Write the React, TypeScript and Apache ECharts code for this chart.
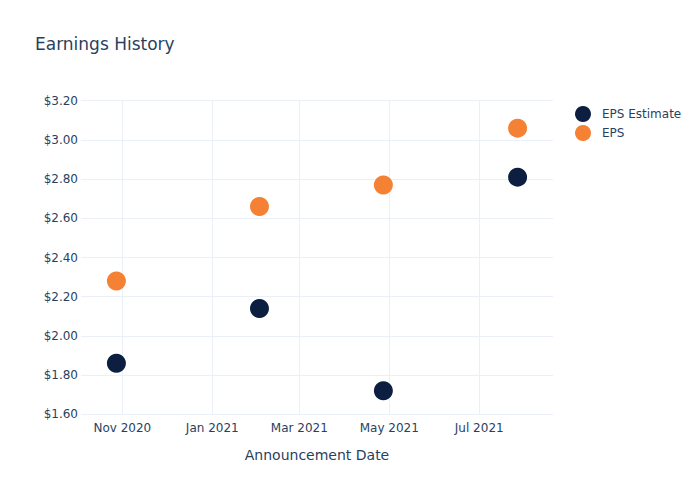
import React, { useEffect, useRef } from "react";
import * as echarts from "echarts";

const dates = ["2020-10-28", "2021-02-02", "2021-04-27", "2021-07-27"];
const epsEstimate = [1.86, 2.14, 1.72, 2.81];
const eps = [2.28, 2.66, 2.77, 3.06];
const xTickDates = ["2020-11-01", "2021-01-01", "2021-03-01", "2021-05-01", "2021-07-01"];
const xMin = "2020-10-04";
const xMax = "2021-08-20";
const monthNames = ["Jan", "Feb", "Mar", "Apr", "May", "Jun", "Jul", "Aug", "Sep", "Oct", "Nov", "Dec"];

const ts = (d: string) => Date.UTC(+d.slice(0, 4), +d.slice(5, 7) - 1, +d.slice(8, 10));

const FONT = "DejaVu Sans";
const TEXT = "#2a3f5f";
const GRID = "#ebf0f8";

export default function App() {
  const ref = useRef<HTMLDivElement>(null);
  useEffect(() => {
    if (!ref.current) return;
    const chart = echarts.init(ref.current, undefined, { renderer: "svg" });
    const tickVals = xTickDates.map(ts);
    chart.setOption({
      animation: false,
      backgroundColor: "#ffffff",
      textStyle: { fontFamily: FONT },
      title: {
        text: "Earnings History",
        left: 35,
        top: 35,
        padding: 0,
        textStyle: { fontFamily: FONT, fontSize: 17, fontWeight: "normal", color: TEXT },
      },
      legend: {
        orient: "vertical",
        left: 575,
        top: 106,
        padding: 0,
        itemWidth: 16,
        itemHeight: 16,
        itemGap: 3,
        icon: "circle",
        textStyle: { fontFamily: FONT, fontSize: 12, color: TEXT, padding: [0, 0, 0, 6] },
        data: ["EPS Estimate", "EPS"],
      },
      grid: { left: 81, right: 147, top: 100.7, bottom: 85.7, containLabel: false },
      xAxis: {
        type: "value",
        min: ts(xMin),
        max: ts(xMax),
        name: "Announcement Date",
        nameLocation: "middle",
        nameGap: 34,
        nameTextStyle: { fontFamily: FONT, fontSize: 14, color: TEXT },
        axisLine: { show: false },
        axisTick: { show: false, customValues: tickVals },
        axisLabel: {
          customValues: tickVals,
          margin: 8,
          fontFamily: FONT,
          fontSize: 12,
          color: TEXT,
          formatter: (v: number) => {
            const d = new Date(v);
            return monthNames[d.getUTCMonth()] + " " + d.getUTCFullYear();
          },
        },
        splitLine: { show: true, lineStyle: { color: GRID, width: 1 } },
      },
      yAxis: {
        type: "value",
        min: 1.6,
        max: 3.2,
        interval: 0.2,
        axisLine: { show: false },
        axisTick: { show: false },
        axisLabel: {
          margin: 3,
          fontFamily: FONT,
          fontSize: 12,
          color: TEXT,
          formatter: (v: number) => "$" + v.toFixed(2),
        },
        splitLine: { show: true, lineStyle: { color: GRID, width: 1 } },
      },
      series: [
        {
          name: "EPS Estimate",
          type: "scatter",
          symbol: "circle",
          symbolSize: 19,
          itemStyle: { color: "#0c1f41", opacity: 1 },
          data: dates.map((d, i) => [ts(d), epsEstimate[i]]),
        },
        {
          name: "EPS",
          type: "scatter",
          symbol: "circle",
          symbolSize: 19,
          itemStyle: { color: "#f58135", opacity: 1 },
          data: dates.map((d, i) => [ts(d), eps[i]]),
        },
      ],
    });
    return () => chart.dispose();
  }, []);
  return <div ref={ref} style={{ width: 700, height: 500, margin: -8 }} />;
}
